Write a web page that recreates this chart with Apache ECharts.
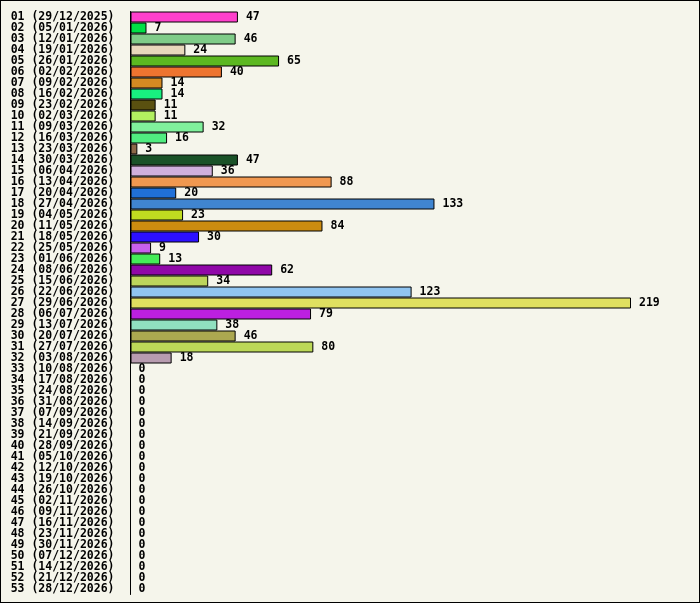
<!DOCTYPE html>
<html>
<head>
<meta charset="utf-8">
<script src="https://cdn.jsdelivr.net/npm/echarts@6/dist/echarts.min.js"></script>
<style>
html,body{margin:0;padding:0;background:#f5f5eb;}
#c{width:700px;height:603px;box-sizing:border-box;border:1px solid #000;}
</style>
</head>
<body>
<div id="c"></div>
<script>
const weeks = ["01","02","03","04","05","06","07","08","09","10","11","12","13","14","15","16","17","18","19","20","21","22","23","24","25","26","27","28","29","30","31","32","33","34","35","36","37","38","39","40","41","42","43","44","45","46","47","48","49","50","51","52","53"];
const dates = ["29/12/2025","05/01/2026","12/01/2026","19/01/2026","26/01/2026","02/02/2026","09/02/2026","16/02/2026","23/02/2026","02/03/2026","09/03/2026","16/03/2026","23/03/2026","30/03/2026","06/04/2026","13/04/2026","20/04/2026","27/04/2026","04/05/2026","11/05/2026","18/05/2026","25/05/2026","01/06/2026","08/06/2026","15/06/2026","22/06/2026","29/06/2026","06/07/2026","13/07/2026","20/07/2026","27/07/2026","03/08/2026","10/08/2026","17/08/2026","24/08/2026","31/08/2026","07/09/2026","14/09/2026","21/09/2026","28/09/2026","05/10/2026","12/10/2026","19/10/2026","26/10/2026","02/11/2026","09/11/2026","16/11/2026","23/11/2026","30/11/2026","07/12/2026","14/12/2026","21/12/2026","28/12/2026"];
const values = [47,7,46,24,65,40,14,14,11,11,32,16,3,47,36,88,20,133,23,84,30,9,13,62,34,123,219,79,38,46,80,18,0,0,0,0,0,0,0,0,0,0,0,0,0,0,0,0,0,0,0,0,0];
const colors = ["#ff40cc","#00e046","#7fcc88","#e8d8bb","#5cb821","#ee7430","#d48a22","#18f080","#5a5010","#b2f060","#80f09c","#50ec80","#8c6848","#1a5228","#d0b0dc","#f09850","#2070d8","#4085d0","#c0dc20","#cc8c10","#2c10ff","#c860ec","#44ec58","#9008a8","#bcd45c","#90c4f0","#e0e060","#bc20e0","#90e0c0","#aca850","#bcd858","#b89cb0","#888888","#888888","#888888","#888888","#888888","#888888","#888888","#888888","#888888","#888888","#888888","#888888","#888888","#888888","#888888","#888888","#888888","#888888","#888888","#888888","#888888"];

const categories = weeks.map((w, i) => w + " (" + dates[i] + ")");
const FONT = "'DejaVu Sans Mono', monospace";

const chart = echarts.init(document.getElementById('c'));
chart.setOption({
  backgroundColor: '#f5f5eb',
  animation: false,
  grid: { left: 129.5, right: 68, top: 10.5, bottom: 7.5, containLabel: false },
  xAxis: {
    type: 'value', min: 0, max: 219, show: false
  },
  yAxis: {
    type: 'category',
    data: categories,
    inverse: true,
    axisLine: { show: true, lineStyle: { color: '#000', width: 1 } },
    axisTick: { show: false },
    splitLine: { show: false },
    axisLabel: {
      interval: 0, margin: 16, color: '#000',
      fontFamily: FONT, fontWeight: 'bold', fontSize: 11.5,
      padding: [2, 0, 0, 0]
    }
  },
  series: [{
    type: 'bar',
    barCategoryGap: '0%',
    data: values.map((v, i) => ({
      value: v,
      itemStyle: { color: colors[i], borderColor: '#000', borderWidth: v > 0 ? 1 : 0 }
    })),
    label: {
      show: true, position: 'right', distance: 8, color: '#000',
      fontFamily: FONT, fontWeight: 'bold', fontSize: 11.5,
      padding: [2, 0, 0, 0]
    }
  }]
});
</script>
</body>
</html>
